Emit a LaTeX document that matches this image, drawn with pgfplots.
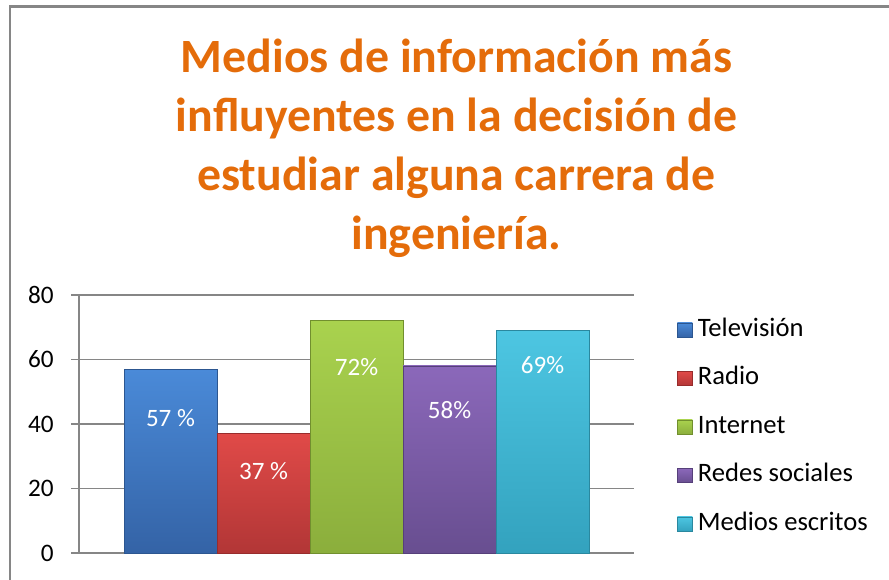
\documentclass[border=0pt]{standalone}
\usepackage{pgfplots}
\pgfplotsset{compat=1.18}
\usepackage{fontspec}
\setmainfont{Carlito}
\definecolor{titleor}{HTML}{E46C0A}
\definecolor{gridc}{HTML}{868686}
\definecolor{bluet}{HTML}{4A8AD8}\definecolor{blueb}{HTML}{3463A6}\definecolor{blued}{HTML}{2C5690}
\definecolor{redt}{HTML}{E04A48}\definecolor{redb}{HTML}{B23636}\definecolor{redd}{HTML}{982C2C}
\definecolor{grnt}{HTML}{A9D24E}\definecolor{grnb}{HTML}{8BAE3C}\definecolor{grnd}{HTML}{718F2E}
\definecolor{purt}{HTML}{8B68BA}\definecolor{purb}{HTML}{684E90}\definecolor{purd}{HTML}{56407A}
\definecolor{cyat}{HTML}{4DC6E2}\definecolor{cyab}{HTML}{33A2BE}\definecolor{cyad}{HTML}{2A889F}
\begin{document}
\begin{tikzpicture}[x=0.5pt,y=0.5pt]
\path[use as bounding box] (0,0) rectangle (889,579);
\draw[gridc, line width=1.25pt] (10,-20) -- (10,572.5) -- (910,572.5);
\begin{scope}[every node/.style={text=titleor, font=\fontsize{23.9}{26}\selectfont\bfseries, anchor=base}]
\node at (456.5,506) {Medios de información más};
\node at (456.5,447) {influyentes en la decisión de};
\node at (456.5,388) {estudiar alguna carrera de};
\node at (456.5,329) {ingeniería.};
\end{scope}
\begin{axis}[
  at={(39.5pt,13pt)}, anchor=south west,
  scale only axis, width=277.5pt, height=129pt,
  xmin=0, xmax=555, ymin=0, ymax=80,
  ytick={0,20,40,60,80}, xtick=\empty,
  axis lines*=left,
  axis line style={draw=gridc, line width=0.75pt},
  ymajorgrids, grid style={draw=gridc, line width=0.75pt},
  major tick length=4pt, tick align=outside,
  tick style={draw=gridc, line width=0.75pt},
  /pgf/number format/assume math mode=true,
  yticklabel style={font=\fontsize{12.6}{14}\selectfont, anchor=east, inner sep=0pt, xshift=-8.5pt},
  every node near coord/.append style={text=white, anchor=center, font=\fontsize{12.5}{14}\selectfont},
  legend image code/.code={\draw[#1, line width=0.4pt] (0pt,-3.6pt) rectangle (7.5pt,3.6pt);},
  legend style={draw=none, fill=none, at={(1.066,0.488)}, anchor=west,
     legend cell align=left, row sep=12.25pt, column sep=2.5pt,
     font=\fontsize{13.3}{15}\selectfont,
     nodes={inner sep=0pt, text height=9pt, text depth=3pt}},
]
\addplot[ybar, bar width=93, bar shift=0, top color=bluet, bottom color=blueb, draw=blued, line width=0.4pt,
  nodes near coords={57 \%}, every node near coord/.append style={yshift=-24.5pt}] coordinates {(91.5,57)};
\addlegendentry{Televisión}
\addplot[ybar, bar width=93, bar shift=0, top color=redt, bottom color=redb, draw=redd, line width=0.4pt,
  nodes near coords={37 \%}, every node near coord/.append style={yshift=-18.5pt}] coordinates {(184.5,37)};
\addlegendentry{Radio}
\addplot[ybar, bar width=93, bar shift=0, top color=grnt, bottom color=grnb, draw=grnd, line width=0.4pt,
  nodes near coords={72\%}, every node near coord/.append style={yshift=-23pt}] coordinates {(277.5,72)};
\addlegendentry{Internet}
\addplot[ybar, bar width=93, bar shift=0, top color=purt, bottom color=purb, draw=purd, line width=0.4pt,
  nodes near coords={58\%}, every node near coord/.append style={yshift=-22pt}] coordinates {(370.5,58)};
\addlegendentry{Redes sociales}
\addplot[ybar, bar width=93, bar shift=0, top color=cyat, bottom color=cyab, draw=cyad, line width=0.4pt,
  nodes near coords={69\%}, every node near coord/.append style={yshift=-17.5pt}] coordinates {(463.5,69)};
\addlegendentry{Medios escritos}
\end{axis}
\end{tikzpicture}
\end{document}
